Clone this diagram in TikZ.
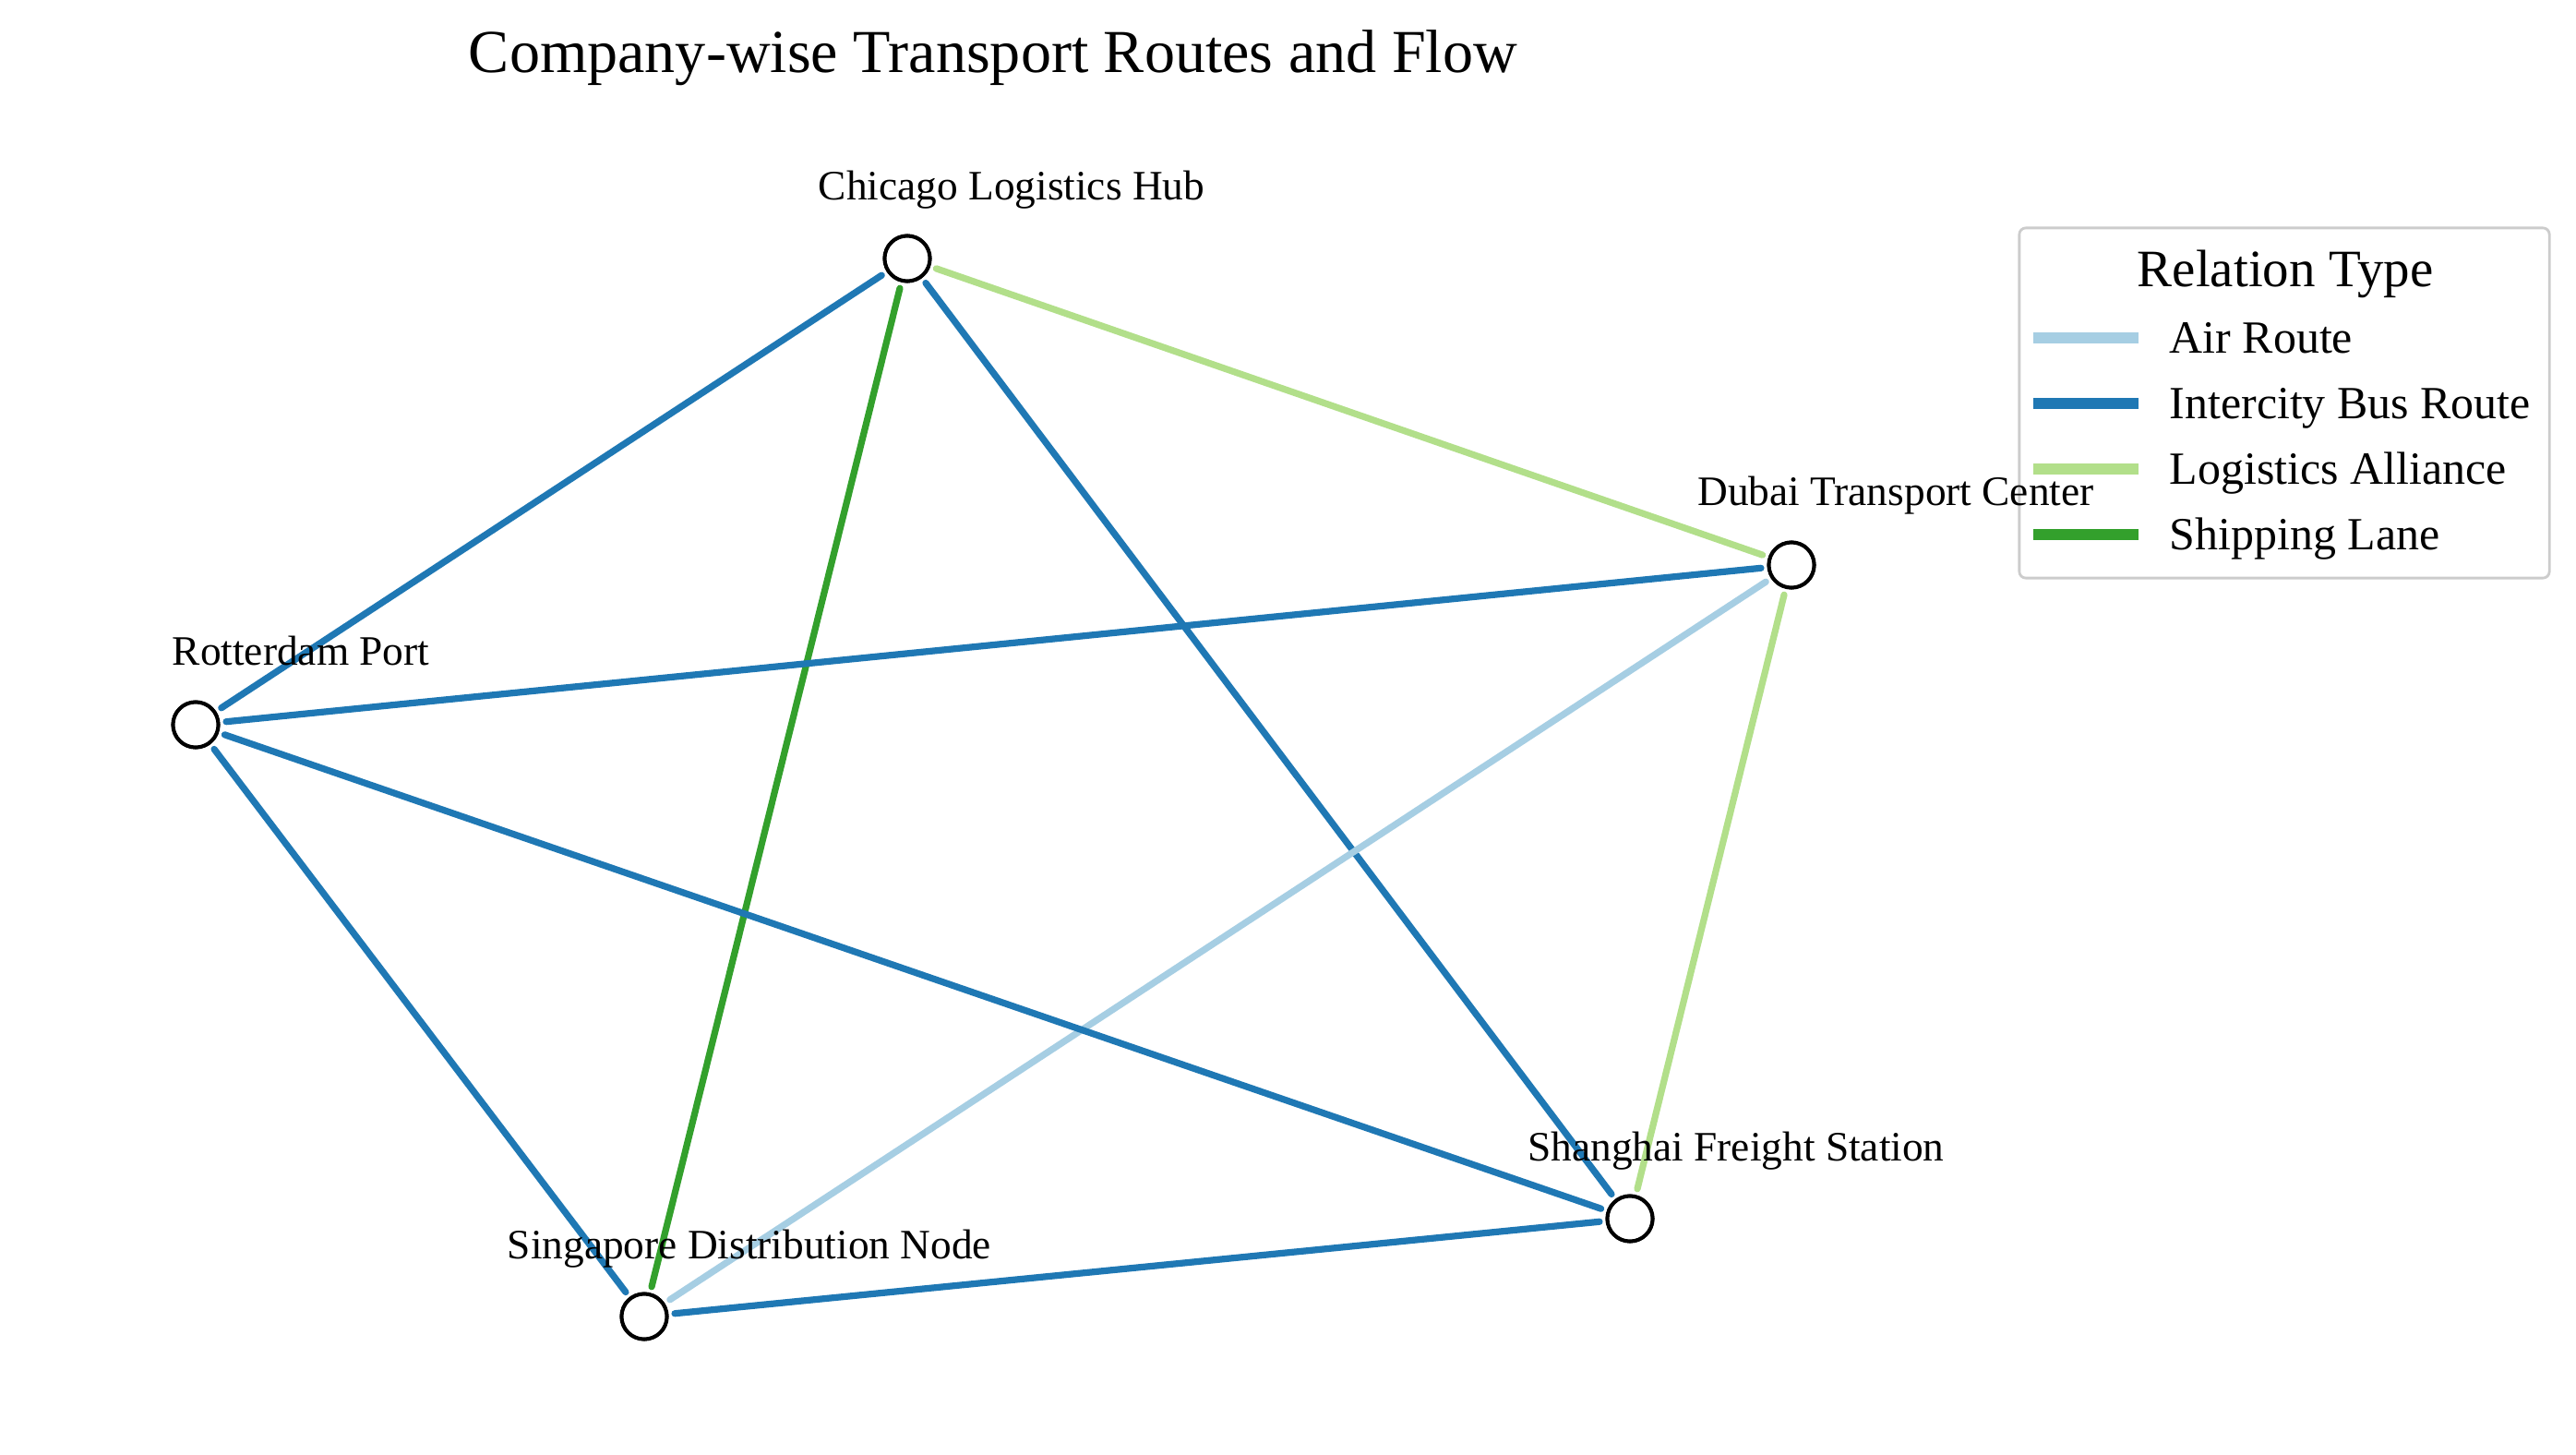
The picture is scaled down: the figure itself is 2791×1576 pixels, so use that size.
\documentclass[tikz,border=0pt]{standalone}
\usepackage{fontspec}
\setmainfont{Liberation Serif}
\definecolor{airc}{HTML}{A6CEE3}
\definecolor{busc}{HTML}{1F78B4}
\definecolor{allc}{HTML}{B2DF8A}
\definecolor{shipc}{HTML}{33A02C}
\definecolor{legbord}{HTML}{CCCCCC}
\tikzset{
  city/.style={circle, draw=black, fill=white, line width=1.14pt, minimum size=0.49cm, inner sep=0pt},
  edge/.style={line width=2.05pt, line cap=round, shorten <=1.9pt, shorten >=1.9pt},
  air/.style={edge, draw=airc},
  bus/.style={edge, draw=busc},
  alliance/.style={edge, draw=allc},
  ship/.style={edge, draw=shipc},
  lbl/.style={anchor=base, inner sep=0pt, font=\fontsize{12.9}{14}\selectfont},
  legtxt/.style={anchor=base west, inner sep=0pt, font=\fontsize{14.2}{16}\selectfont},
  legline/.style={line width=3.4pt},
}
\begin{document}
\begin{tikzpicture}[x=0.01cm, y=-0.01cm]
\useasboundingbox (0,0) rectangle (2791,1576);
% title
\node[anchor=base, inner sep=0pt, font=\fontsize{18.8}{22}\selectfont] (title) at (1076,79) {Company-wise Transport Routes and Flow};
% nodes
\node[city] (chi) at (983,280) {};
\node[city] (dub) at (1941,612) {};
\node[city] (rot) at (212,785) {};
\node[city] (sha) at (1766,1320) {};
\node[city] (sin) at (698,1426) {};
% edges
\draw[bus] (chi) -- (rot);
\draw[ship] (chi) -- (sin);
\draw[bus] (chi) -- (sha);
\draw[alliance] (chi) -- (dub);
\draw[bus] (dub) -- (rot);
\draw[air] (dub) -- (sin);
\draw[alliance] (dub) -- (sha);
\draw[bus] (rot) -- (sha);
\draw[bus] (rot) -- (sin);
\draw[bus] (sin) -- (sha);
% redraw nodes on top
\node[city] at (chi) {};
\node[city] at (dub) {};
\node[city] at (rot) {};
\node[city] at (sha) {};
\node[city] at (sin) {};
% legend
\node[draw=legbord, line width=0.8pt, fill=white, fill opacity=0.8, rounded corners=2pt, minimum width=5.74cm, minimum height=3.79cm, inner sep=0pt] (legend) at (2475,436.5) {};
\node[anchor=base, inner sep=0pt, font=\fontsize{16.2}{18}\selectfont] (legtitle) at (2476,310) {Relation Type};
\coordinate (la1) at (2203,366); \coordinate (lb1) at (2317,366);
\coordinate (la2) at (2203,437); \coordinate (lb2) at (2317,437);
\coordinate (la3) at (2203,508); \coordinate (lb3) at (2317,508);
\coordinate (la4) at (2203,579); \coordinate (lb4) at (2317,579);
\draw[legline, draw=airc] (la1) -- (lb1);
\draw[legline, draw=busc] (la2) -- (lb2);
\draw[legline, draw=allc] (la3) -- (lb3);
\draw[legline, draw=shipc] (la4) -- (lb4);
\node[legtxt] (lt1) at (2350,382) {Air Route};
\node[legtxt] (lt2) at (2350,453) {Intercity Bus Route};
\node[legtxt] (lt3) at (2350,524) {Logistics Alliance};
\node[legtxt] (lt4) at (2350,595) {Shipping Lane};
% labels
\node[lbl] (lchi) at (1096,217) {Chicago Logistics Hub};
\node[lbl] (ldub) at (2054,547) {Dubai Transport Center};
\node[lbl] (lrot) at (326,720) {Rotterdam Port};
\node[lbl] (lsha) at (1881,1257) {Shanghai Freight Station};
\node[lbl] (lsin) at (812,1363) {Singapore Distribution Node};
\end{tikzpicture}
\end{document}
